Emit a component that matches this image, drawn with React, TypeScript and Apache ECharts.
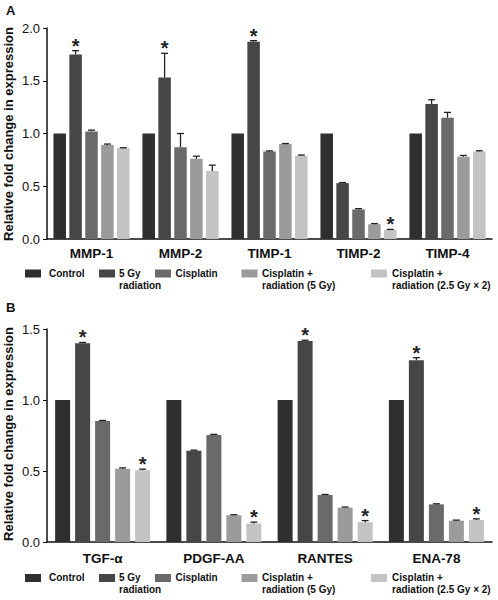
import React, { useEffect, useRef } from "react";
import * as echarts from "echarts";

const seriesNames = [
  "Control",
  "5 Gy\nradiation",
  "Cisplatin",
  "Cisplatin +\nradiation (5 Gy)",
  "Cisplatin +\nradiation (2.5 Gy × 2)",
];
const colors = ["#2f2f2f", "#464646", "#6a6a6a", "#9b9b9b", "#c3c3c3"];

// Panel A
const categoriesA = ["MMP-1", "MMP-2", "TIMP-1", "TIMP-2", "TIMP-4"];
const controlA = [1.0, 1.0, 1.0, 1.0, 1.0];
const gy5A = [1.75, 1.53, 1.87, 0.53, 1.28];
const cisA = [1.02, 0.87, 0.83, 0.28, 1.15];
const cisRad5A = [0.89, 0.76, 0.9, 0.14, 0.78];
const cisRad25A = [0.86, 0.645, 0.79, 0.085, 0.83];
const errA = [
  [0, 0, 0, 0, 0],
  [0.035, 0.23, 0.01, 0.005, 0.04],
  [0.012, 0.13, 0.005, 0.008, 0.05],
  [0.01, 0.025, 0.005, 0.006, 0.012],
  [0.005, 0.055, 0.006, 0.006, 0.006],
];
const starsA = [
  [false, false, false, false, false],
  [true, true, true, false, false],
  [false, false, false, false, false],
  [false, false, false, false, false],
  [false, false, false, true, false],
];
const ticksA = { min: 0, max: 2.0, interval: 0.5 };

// Panel B
const categoriesB = ["TGF-α", "PDGF-AA", "RANTES", "ENA-78"];
const controlB = [1.0, 1.0, 1.0, 1.0];
const gy5B = [1.4, 0.643, 1.415, 1.28];
const cisB = [0.852, 0.754, 0.331, 0.265];
const cisRad5B = [0.516, 0.188, 0.242, 0.15];
const cisRad25B = [0.505, 0.13, 0.139, 0.155];
const errB = [
  [0, 0, 0, 0, 0],
  [0.005, 0.004, 0.006, 0.018],
  [0.004, 0.004, 0.004, 0.004],
  [0.006, 0.004, 0.004, 0.004],
  [0.008, 0.01, 0.012, 0.008],
];
const starsB = [
  [false, false, false, false],
  [true, false, true, true],
  [false, false, false, false],
  [false, false, false, false],
  [true, true, true, true],
];
const ticksB = { min: 0, max: 1.5, interval: 0.5 };

const FONT = "'Liberation Sans', Arial, Helvetica, sans-serif";

export default function App() {
  const ref = useRef<HTMLDivElement>(null);

  useEffect(() => {
    if (!ref.current) return;
    const chart = echarts.init(ref.current, null, { renderer: "svg" });

    const valuesA = [controlA, gy5A, cisA, cisRad5A, cisRad25A];
    const valuesB = [controlB, gy5B, cisB, cisRad5B, cisRad25B];

    const barWA = 12.5;
    const gapA = 3.4;
    const barWB = 15;
    const gapB = 5;

    const makeBars = (vals: number[][], gi: number, bw: number, gap: number) =>
      vals.map((v, i) => ({
        type: "bar",
        name: seriesNames[i],
        xAxisIndex: gi,
        yAxisIndex: gi,
        data: v,
        barWidth: bw,
        barGap: (gap / bw) * 100 + "%",
        itemStyle: { color: colors[i] },
        z: 2,
      }));

    const makeErr = (
      vals: number[][],
      errs: number[][],
      stars: boolean[][],
      gi: number,
      bw: number,
      gap: number
    ) => {
      const data: any[] = [];
      vals.forEach((v, si) => {
        v.forEach((val, ci) => {
          data.push([ci, val, errs[si][ci], si, stars[si][ci] ? 1 : 0]);
        });
      });
      const pitch = bw + gap;
      return {
        type: "custom",
        xAxisIndex: gi,
        yAxisIndex: gi,
        z: 5,
        data,
        encode: { x: 0, y: 1 },
        renderItem: (params: any, api: any) => {
          const ci = api.value(0);
          const val = api.value(1);
          const err = api.value(2);
          const si = api.value(3);
          const star = api.value(4);
          const base = api.coord([ci, val]);
          const x = base[0] + (si - 2) * pitch;
          const yTop = api.coord([ci, val + err])[1];
          const children: any[] = [];
          if (err > 0) {
            children.push({
              type: "line",
              shape: { x1: x, y1: base[1], x2: x, y2: yTop },
              style: { stroke: "#222", lineWidth: 1.3 },
            });
            children.push({
              type: "line",
              shape: { x1: x - 3.5, y1: yTop, x2: x + 3.5, y2: yTop },
              style: { stroke: "#222", lineWidth: 1.3 },
            });
          }
          if (star) {
            children.push({
              type: "text",
              x: x,
              y: yTop - 5,
              style: {
                text: "*",
                textAlign: "center",
                textVerticalAlign: "middle",
                fontSize: 20,
                fontWeight: "bold",
                fontFamily: FONT,
                fill: "#222",
              },
            });
          }
          return { type: "group", children };
        },
      };
    };

    const xAxisCommon = {
      type: "category",
      axisLine: { lineStyle: { color: "#111", width: 1.5 } },
      axisTick: { alignWithLabel: true, length: 4, lineStyle: { color: "#111" } },
      axisLabel: {
        fontSize: 13.5,
        fontWeight: "bold",
        color: "#111",
        fontFamily: FONT,
        margin: 7,
      },
    };
    const yAxisCommon = {
      type: "value",
      axisLine: { show: true, lineStyle: { color: "#111", width: 1.5 } },
      axisTick: { show: true, length: 4, lineStyle: { color: "#111" } },
      splitLine: { show: false },
      axisLabel: {
        fontSize: 13,
        color: "#111",
        fontFamily: FONT,
        margin: 7,
        formatter: (v: number) => v.toFixed(1),
      },
    };

    const legendItems = (yTop: number) => {
      const swX = [25, 99, 155, 241.5, 371];
      const txX = [49, 119, 175.5, 262, 392];
      const els: any[] = [];
      seriesNames.forEach((n, i) => {
        els.push({
          type: "rect",
          shape: { x: swX[i], y: yTop + 2.5, width: 16, height: 8 },
          style: { fill: colors[i] },
        });
        els.push({
          type: "text",
          x: txX[i],
          y: yTop,
          style: {
            text: n,
            fontSize: 10,
            fontWeight: "bold",
            fontFamily: FONT,
            lineHeight: 12,
            textVerticalAlign: "top",
            fill: "#111",
          },
        });
      });
      return els;
    };

    const yTitle = (cy: number) => ({
      type: "text",
      x: 8,
      y: cy,
      rotation: Math.PI / 2,
      style: {
        text: "Relative fold change in expression",
        textAlign: "center",
        textVerticalAlign: "middle",
        fontSize: 13,
        fontWeight: "bold",
        fontFamily: FONT,
        fill: "#111",
      },
    });

    const option: any = {
      animation: false,
      backgroundColor: "#fff",
      grid: [
        { left: 47, right: 6, top: 28, height: 211 },
        { left: 47, right: 6, top: 329, height: 213 },
      ],
      xAxis: [
        { ...xAxisCommon, gridIndex: 0, data: categoriesA },
        { ...xAxisCommon, gridIndex: 1, data: categoriesB, axisLabel: { ...xAxisCommon.axisLabel, margin: 9 } },
      ],
      yAxis: [
        { ...yAxisCommon, gridIndex: 0, ...ticksA },
        { ...yAxisCommon, gridIndex: 1, ...ticksB },
      ],
      series: [
        ...makeBars(valuesA, 0, barWA, gapA),
        makeErr(valuesA, errA, starsA, 0, barWA, gapA),
        ...makeBars(valuesB, 1, barWB, gapB),
        makeErr(valuesB, errB, starsB, 1, barWB, gapB),
      ],
      graphic: [
        {
          type: "text",
          x: 6,
          y: 4,
          style: { text: "A", fontSize: 13, fontWeight: "bold", fontFamily: FONT, fill: "#111" },
        },
        {
          type: "text",
          x: 6,
          y: 301,
          style: { text: "B", fontSize: 13, fontWeight: "bold", fontFamily: FONT, fill: "#111" },
        },
        yTitle(134),
        yTitle(434),
        ...legendItems(267),
        ...legendItems(571.5),
      ],
    };

    chart.setOption(option);
    return () => chart.dispose();
  }, []);

  return (
    <div
      ref={ref}
      style={{ position: "absolute", left: 0, top: 0, width: 498, height: 600 }}
    />
  );
}
